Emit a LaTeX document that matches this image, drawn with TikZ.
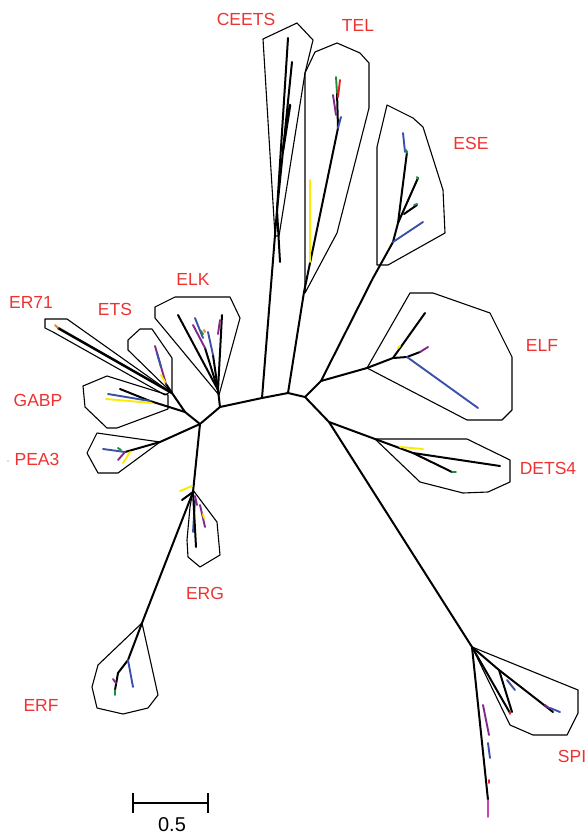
\documentclass[tikz,border=0pt]{standalone}
\usepackage{fontspec}
\setmainfont{Liberation Sans}
\definecolor{lab}{RGB}{238,50,50}
\definecolor{cb}{RGB}{60,80,170}
\definecolor{cp}{RGB}{130,40,140}
\definecolor{cy}{RGB}{250,235,0}
\definecolor{cg}{RGB}{30,140,60}
\definecolor{cr}{RGB}{230,30,30}
\definecolor{co}{RGB}{240,130,40}
\definecolor{ck}{RGB}{200,70,180}
\begin{document}
\begin{tikzpicture}[x=1pt,y=-1pt,
  tree/.style={line width=2pt, line cap=round, line join=round},
  tip/.style={line width=1.9pt, line cap=round},
  hull/.style={line width=1.1pt, line join=round},
  lbl/.style={text=lab, font=\fontsize{17.5}{18}\selectfont, inner sep=0pt}]
\useasboundingbox (0,0) rectangle (585,834);

% ---------- backbone coordinates ----------
\coordinate (A) at (200,424);
\coordinate (B) at (185,412);
\coordinate (K) at (220,407);
\coordinate (M1) at (262,398);
\coordinate (M2) at (288,393);
\coordinate (M3) at (305,397);
\coordinate (E1) at (321,381);
\coordinate (D1) at (329,422);
\coordinate (C) at (172,393);
\coordinate (G) at (150,401);
\coordinate (P1) at (160,442);
\coordinate (P) at (125,452);
\coordinate (ELKb) at (218,390);
\coordinate (C1) at (277,210);
\coordinate (T1) at (304,292);
\coordinate (T2) at (338,128);
\coordinate (ESEs) at (373,278);
\coordinate (ESEn) at (393,242);
\coordinate (ESE2) at (398,223);
\coordinate (F1) at (367,368);
\coordinate (F2) at (393,358);
\coordinate (F3) at (407,357);
\coordinate (DN) at (375,439);
\coordinate (DT) at (413,453);
\coordinate (SN) at (472,647);
\coordinate (S2) at (499,670);
\coordinate (ERGn) at (193,492);
\coordinate (ERFn) at (142,623);
\coordinate (ERF2) at (128,660);

% ---------- clade outlines ----------
\draw[hull] (263,39)--(297,23)--(313,40)--(305,73)--(279,236)--(275,236)--cycle; % CEETS
\draw[hull] (305,73)--(315,52)--(337,43)--(360,53)--(369,63)--(369,108)--(337,233)--(305,293)--cycle; % TEL
\draw[hull] (377,147)--(387,105)--(413,118)--(423,127)--(443,190)--(445,233)--(388,265)--(377,265)--cycle; % ESE
\draw[hull] (F1)--(410,293)--(433,293)--(490,313)--(512,357)--(512,410)--(502,420)--(467,420)--cycle; % ELF
\draw[hull] (DN)--(467,439)--(510,460)--(510,482)--(488,492)--(463,493)--(420,482)--cycle; % DETS4
\draw[hull] (SN)--(578,690)--(578,713)--(567,735)--(533,735)--(510,725)--cycle; % SPI
\draw[hull] (155,307)--(175,297)--(230,297)--(240,318)--(219,395)--(155,318)--cycle; % ELK
\draw[hull] (128,340)--(140,329)--(152,329)--(172,358)--(172,393)--(128,350)--cycle; % ETS
\draw[hull] (45,319)--(67,319)--(170,392)--(165,395)--(53,332)--(45,328)--cycle; % ER71
\draw[hull] (107,376)--(83,386)--(85,407)--(107,428)--(117,428)--(168,409)--(168,395)--cycle; % GABP
\draw[hull] (97,433)--(87,453)--(98,473)--(118,473)--(160,442)--cycle; % PEA3
\draw[hull] (193,490)--(217,522)--(220,555)--(200,567)--(188,557)--(187,540)--(190,507)--cycle; % ERG
\draw[hull] (ERFn)--(158,695)--(148,708)--(123,714)--(97,708)--(92,687)--(98,665)--cycle; % ERF

% ---------- backbone ----------
\draw[tree] (B)--(A)--(K)--(M1)--(M2)--(M3)--(E1);
\draw[tree] (M3)--(D1);
\draw[tree] (A)--(ERGn)--(ERFn);
\draw[tree] (A)--(P1)--(P);
\draw[tree] (B)--(C);
\draw[tree] (B)--(G);

% ER71
\draw[tree, line width=2.5pt] (C)--(58,328);
\draw[tip, co] (55,325)--(58,328);
% ETS
\draw[tree] (C)--(166,384);
\draw[tip, cp] (155,346)--(166,384);
\draw[tip, cb] (157,353)--(161,367);
\draw[tip, cy] (161,375)--(165,382);
% GABP
\draw[tree] (G)--(120,389);
\draw[tip, cb] (G)--(108,394);
\draw[tip, cy] (152,403)--(106,399);
% PEA3
\draw[tip, cb] (103,449)--(P);
\draw[tip, cp] (118,460)--(P);
\draw[tip, cy] (123,463)--(130,452);
\draw[tip, cg] (118,448)--(121,450);
% ELK
\draw[tree] (K)--(ELKb);
\draw[tree] (ELKb)--(178,315);
\draw[tree] (ELKb)--(222,315);
\draw[tree] (ELKb)--(205,348);
\draw[tree] (ELKb)--(213,355);
\draw[tip, cp] (193,325)--(205,348);
\draw[tip, cb] (195,318)--(203,338);
\draw[tip, cb] (208,332)--(213,355);
\draw[tip, cp] (220,320)--(218,334);
\draw[tip, cg] (201,331)--(203,334);
\draw[tip, co] (204,330)--(205,332);
% CEETS
\draw[tree] (M1)--(C1)--(288,38);
\draw[tree] (C1)--(292,62);
\draw[tree, line width=2.6pt] (283,150)--(290,105);
\draw[tree] (C1)--(280,262);
% TEL
\draw[tree] (M2)--(T1)--(T2)--(337,92);
\draw[tip, cb] (T2)--(341,117);
\draw[tip, cp] (333,95)--(336,115);
\draw[tip, cg] (336,77)--(337,93);
\draw[tip, cr] (340,80)--(338,97);
\draw[tip, cy] (310,180)--(310,262);
% ESE
\draw[tree] (E1)--(ESEs)--(ESEn)--(ESE2)--(407,152);
\draw[tip, cb] (ESEn)--(423,222);
\draw[tip, cb] (405,152)--(403,133);
\draw[tip, cg] (406,150)--(407,153);
\draw[tree] (ESE2)--(418,178);
\draw[tip, cg] (417,177)--(418,179);
\draw[tree] (404,214)--(417,205);
\draw[tip, cg] (414,205)--(417,204);
% ELF
\draw[tree] (E1)--(F1)--(F2)--(425,313);
\draw[tree] (F2)--(F3)--(420,352);
\draw[tip, cb] (F3)--(478,408);
\draw[tip, cp] (420,352)--(428,347);
\draw[tip, cy] (398,348)--(400,346);
% DETS4
\draw[tree] (D1)--(DN)--(DT)--(500,466);
\draw[tree] (DT)--(452,472);
\draw[tip, cg] (452,472)--(456,472);
\draw[tip, cy] (400,447)--(423,449);
% SPI
\draw[tree] (D1)--(SN)--(488,800);
\draw[tip, ck] (488,800)--(488,817);
\draw[tip, cp] (483,705)--(489,735);
\draw[tip, cb] (488,743)--(490,758);
\draw[tip, cr] (489,780)--(489,783);
\draw[tree] (SN)--(S2)--(553,712);
\draw[tree] (S2)--(512,712);
\draw[tree] (SN)--(510,713);
\draw[tip, cr] (510,712)--(510,714);
\draw[tip, cb] (507,680)--(515,690);
\draw[tip, cb] (550,708)--(560,712);
\draw[tip, cp] (545,705)--(549,708);
% ERG
\draw[tip, cy] (180,491)--(192,486);
\draw[tree] (182,500)--(ERGn);
\draw[tip, cb] (195,500)--(193,532);
\draw[tree] (ERGn)--(196,547);
\draw[tip, cp] (200,505)--(205,527);
\draw[tip, cp] (195,496)--(197,505);
\draw[tip, cy] (203,514)--(204,518);
% ERF
\draw[tree] (ERFn)--(ERF2)--(118,673)--(115,690);
\draw[tip, cg] (115,690)--(115,695);
\draw[tip, cp] (113,679)--(116,683);
\draw[tip, cb] (ERF2)--(133,687);

% ---------- labels ----------
\node[lbl] (lCEETS) at (246,19) {CEETS};
\node[lbl] (lTEL) at (358,25) {TEL};
\node[lbl] (lESE) at (471,143) {ESE};
\node[lbl] (lELK) at (193,279) {ELK};
\node[lbl] (lER71) at (31,302) {ER71};
\node[lbl] (lETS) at (115,309) {ETS};
\node[lbl] (lGABP) at (38,400) {GABP};
\node[lbl] (lPEA3) at (37,459) {PEA3};
\fill[lab] (8,461) circle (0.7);
\node[lbl] (lELF) at (542,345) {ELF};
\node[lbl] (lDETS4) at (548,468) {DETS4};
\node[lbl] (lERG) at (205,593) {ERG};
\node[lbl] (lERF) at (41,705) {ERF};
\node[lbl] (lSPI) at (572,756) {SPI};

% ---------- scale bar ----------
\coordinate (s1) at (133,803);
\coordinate (s2) at (208,803);
\draw[line width=1.8pt] (s1)--(s2);
\draw[line width=1.8pt] (133,793)--(133,813);
\draw[line width=1.8pt] (208,793)--(208,813);
\node[font=\fontsize{20}{21}\selectfont, inner sep=0pt, anchor=base] (scl) at (172,831) {0.5};
\end{tikzpicture}
\end{document}
